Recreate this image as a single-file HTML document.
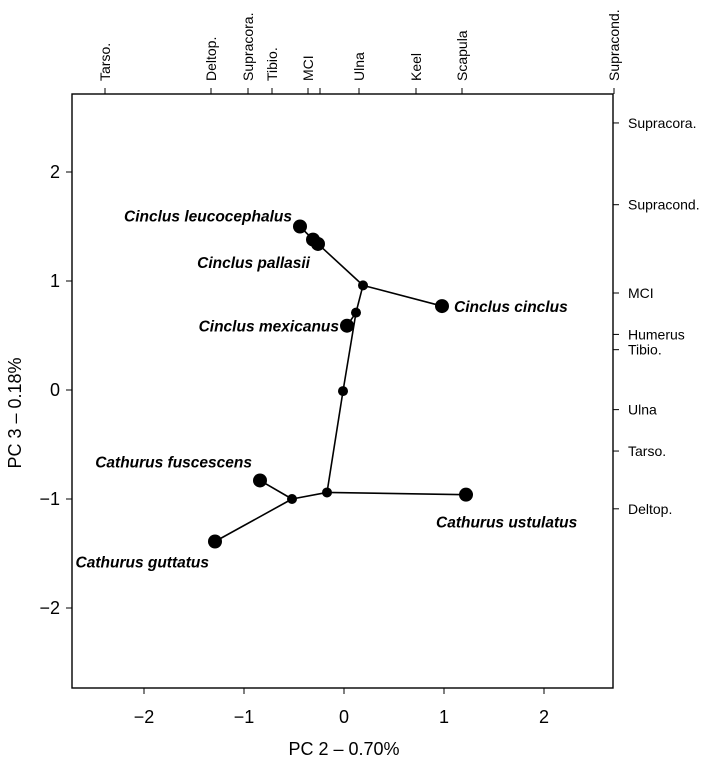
<!DOCTYPE html>
<html><head><meta charset="utf-8"><style>
body{margin:0;background:#fff}
svg{font-family:"Liberation Sans",Arial,sans-serif}
</style></head><body>
<svg id="chart" width="709" height="761"></svg>
<script>
const nodeNames=["leuco","pal1","pal2","A","cinclus","B","mex","C","D","ust","E","fusc","gutt"];
const nodeX=[-0.44,-0.31,-0.26,0.19,0.98,0.12,0.03,-0.01,-0.17,1.22,-0.52,-0.84,-1.29];
const nodeY=[1.50,1.38,1.34,0.96,0.77,0.71,0.59,-0.01,-0.94,-0.96,-1.00,-0.83,-1.39];
const nodeTip=[1,1,1,0,1,0,1,0,0,1,0,1,1];
const edgeFrom=[0,1,2,3,3,5,5,7,8,8,10,10];
const edgeTo=[1,2,3,4,5,6,7,8,9,10,11,12];
const labelText=["Cinclus leucocephalus","Cinclus pallasii","Cinclus cinclus","Cinclus mexicanus","Cathurus fuscescens","Cathurus guttatus","Cathurus ustulatus"];
const labelNode=[0,2,4,6,11,12,9];
const xTicks=[-2,-1,0,1,2];
const yTicks=[-2,-1,0,1,2];
const topLabels=["Tarso.","Deltop.","Supracora.","Tibio.","MCI","","Ulna","Keel","Scapula","Supracond."];
const topPos=[-2.39,-1.33,-0.96,-0.72,-0.36,-0.24,0.15,0.72,1.18,2.7];
const rightLabels=["Supracora.","Supracond.","MCI","Humerus","Tibio.","Ulna","Tarso.","Deltop."];
const rightPos=[2.45,1.7,0.89,0.51,0.37,-0.18,-0.56,-1.09];
const L=72,R=613,T=94,B=688;
const sx=v=>344+v*100, sy=v=>390-v*109;
const svg=document.getElementById('chart');const NS="http://www.w3.org/2000/svg";
function mk(t,a,txt){const e=document.createElementNS(NS,t);for(const k in a)e.setAttribute(k,a[k]);if(txt!==undefined)e.textContent=txt;svg.appendChild(e);return e;}
let e=mk('rect',{x:L,y:T,width:R-L,height:B-T,fill:'none',stroke:'#000','stroke-width':1.4});


xTicks.forEach(v=>{mk('line',{x1:sx(v),x2:sx(v),y1:B,y2:B+6,stroke:'#000'});
 e=mk('text',{x:sx(v),y:B+35,'font-size':18,'text-anchor':'middle'},v<0?'−'+(-v):v);
 
 });
yTicks.forEach(v=>{mk('line',{x1:L-6,x2:L,y1:sy(v),y2:sy(v),stroke:'#000'});
 e=mk('text',{x:L-12,y:sy(v)+6,'font-size':18,'text-anchor':'end'},v<0?'−'+(-v):v);
 
 });
topLabels.forEach((t,i)=>{const x=sx(topPos[i]);mk('line',{x1:x,x2:x,y1:T-6,y2:T,stroke:'#000'});
 if(t){e=mk('text',{x:0,y:0,'font-size':14,transform:`translate(${x+5},${T-13}) rotate(-90)`},t);
 
 }});
rightLabels.forEach((t,i)=>{const y=sy(rightPos[i]);mk('line',{x1:R,x2:R+6,y1:y,y2:y,stroke:'#000'});
 e=mk('text',{x:R+15,y:y+5,'font-size':14},t);
 
 });
e=mk('text',{x:344,y:755,'font-size':18,'text-anchor':'middle'},'PC 2 – 0.70%');


e=mk('text',{x:0,y:0,'font-size':18,'text-anchor':'middle',transform:'translate(21,413) rotate(-90)'},'PC 3 – 0.18%');


edgeFrom.forEach((f,i)=>{const t=edgeTo[i];
 e=mk('line',{x1:sx(nodeX[f]),y1:sy(nodeY[f]),x2:sx(nodeX[t]),y2:sy(nodeY[t]),stroke:'#000','stroke-width':1.6});
 
 });
nodeX.forEach((x,i)=>{e=mk('circle',{cx:sx(x),cy:sy(nodeY[i]),r:nodeTip[i]?7:5,fill:'#000'});
 
 });
const off=[[-8,-5,'end'],[-8,24,'end'],[12,6,'start'],[-8,6,'end'],[-8,-13,'end'],[-6,26,'end'],[-30,33,'start']];
labelText.forEach((t,i)=>{const n=labelNode[i];const o=off[i];
 e=mk('text',{x:sx(nodeX[n])+o[0],y:sy(nodeY[n])+o[1],'font-size':15.5,'font-weight':'bold','font-style':'italic','text-anchor':o[2]},t);
 
 });
</script>
</body></html>
